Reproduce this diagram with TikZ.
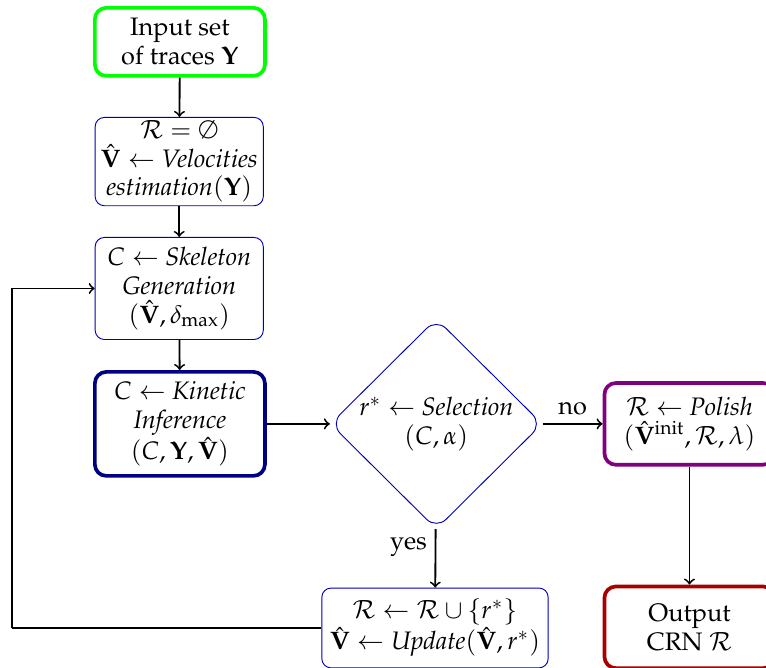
\documentclass[tikz,border=0pt]{standalone}
\usepackage[T1]{fontenc}
\usepackage{mathpazo}
\usepackage{amsmath}
\usepackage{amssymb}
\usepackage{tikz}
\usetikzlibrary{arrows}
\usetikzlibrary{shapes.geometric}
\tikzset{every node/.style = {font=\fontsize{11pt}{12.5pt}\selectfont}}
\tikzset{stepbox/.style = {draw=blue!70!black, rounded corners=4pt, align=center,
                           inner sep=1pt, minimum width=2.57cm}}
\tikzset{bigbox/.style = {rounded corners=5pt, ultra thick, align=center,
                          inner sep=1pt, minimum width=2.6cm}}
\tikzset{choice/.style = {draw=blue!70!black, diamond, aspect=1, rounded corners=6pt,
                          align=center, inner sep=0, minimum width=3.24cm, minimum height=3.22cm}}
\tikzset{flow/.style = {->, thick}}

\begin{document}
\begin{tikzpicture}
      \useasboundingbox (0, 0) rectangle (11.71, 10.21);

      \node (input) at (2.75, 9.57) [bigbox, draw=green, minimum height=1.04cm]
            {Input set\\ of traces $\mathbf{Y}$};
      \node (init) at (2.74, 7.74) [stepbox, minimum height=1.35cm]
            {$\mathcal{R} = \emptyset$\\ $\hat{\mathbf{V}} \leftarrow$ \textit{Velocities}\\ \textit{estimation}$(\mathbf{Y})$};
      \node (skel) at (2.74, 5.80) [stepbox, minimum height=1.56cm]
            {$C \leftarrow$ \textit{Skeleton}\\ \textit{Generation}\\ $(\hat{\mathbf{V}}, \delta_{\max})$};
      \node (kin) at (2.75, 3.73) [bigbox, draw=blue!50!black, minimum height=1.59cm]
            {$C \leftarrow$ \textit{Kinetic}\\ \textit{Inference}\\ $(C, \mathbf{Y}, \hat{\mathbf{V}})$};
      \node (sel) at (6.67, 3.73) [choice]
            {$r^{*} \leftarrow$ \textit{Selection}\\ $(C, \alpha)$};
      \node (polish) at (10.54, 3.73) [bigbox, draw=violet, minimum height=1.25cm]
            {$\mathcal{R} \leftarrow$ \textit{Polish}\\ $(\hat{\mathbf{V}}^{\mathrm{init}}, \mathcal{R}, \lambda)$};
      \node (update) at (6.65, 0.61) [stepbox, minimum width=3.46cm, minimum height=1.22cm]
            {$\mathcal{R} \leftarrow \mathcal{R} \cup \{r^{*}\}$\\ $\hat{\mathbf{V}} \leftarrow \textit{Update}(\hat{\mathbf{V}}, r^{*})$};
      \node (output) at (10.54, 0.62) [bigbox, draw=red!65!black, minimum height=1.25cm]
            {Output\\ CRN $\mathcal{R}$};

      \coordinate (back) at (0.18, 0.61);

      \draw [flow] (input) -- (init);
      \draw [flow] (init) -- (skel);
      \draw [flow] (skel) -- (kin);
      \draw [flow] (kin) -- (sel);
      \draw [flow] (sel) -- (polish) node [pos = 0.5, above] {no};
      \draw [flow] (sel) -- (update) node [pos = 0.3, left] {yes};
      \draw [flow] (polish) -- (output);
      \draw [thick] (update.west) -- (back);
      \draw [flow] (back) |- (skel.west);
    \end{tikzpicture}
\end{document}
